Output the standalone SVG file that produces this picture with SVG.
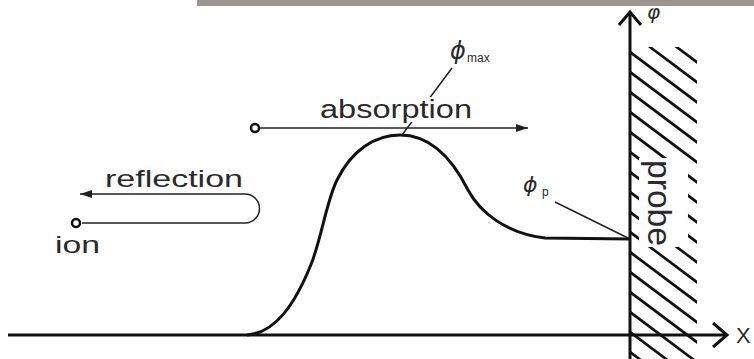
<svg xmlns="http://www.w3.org/2000/svg" width="754" height="359" viewBox="0 0 754 359">
  <style>
    .lbl { font-family: "Liberation Sans", Arial, sans-serif; fill: #2a2a2a; }
    .phi { font-family: "DejaVu Sans", "Liberation Sans", sans-serif; font-style: italic; fill: #2a2a2a; }
    .thin { stroke: #222; stroke-width: 1.5; fill: none; }
    .thick { stroke: #111; stroke-width: 3; fill: none; }
    .hatch { stroke: #111; stroke-width: 2.6; }
    .ring { fill: #fff; stroke: #111; stroke-width: 2.5; }
  </style>
  <defs>
    <marker id="tri" viewBox="0 0 12 8" refX="12" refY="4" markerWidth="12" markerHeight="8" markerUnits="userSpaceOnUse" orient="auto">
      <path d="M0,0 L12,4 L0,8 Z" fill="#222"/>
    </marker>
    <clipPath id="probeClip">
      <rect x="631" y="47" width="66" height="312"/>
    </clipPath>
  </defs>
  <rect width="754" height="359" fill="#fff"/>

  <g id="probe">
    <g clip-path="url(#probeClip)" class="hatch">
      <line x1="630" y1="12" x2="720" y2="79.5"/>
      <line x1="630" y1="32" x2="720" y2="99.5"/>
      <line x1="630" y1="52" x2="720" y2="119.5"/>
      <line x1="630" y1="72" x2="720" y2="139.5"/>
      <line x1="630" y1="92" x2="720" y2="159.5"/>
      <line x1="630" y1="112" x2="720" y2="179.5"/>
      <line x1="630" y1="132" x2="720" y2="199.5"/>
      <line x1="630" y1="152" x2="720" y2="219.5"/>
      <line x1="630" y1="172" x2="720" y2="239.5"/>
      <line x1="630" y1="192" x2="720" y2="259.5"/>
      <line x1="630" y1="212" x2="720" y2="279.5"/>
      <line x1="630" y1="232" x2="720" y2="299.5"/>
      <line x1="630" y1="252" x2="720" y2="319.5"/>
      <line x1="630" y1="272" x2="720" y2="339.5"/>
      <line x1="630" y1="292" x2="720" y2="359.5"/>
      <line x1="630" y1="312" x2="720" y2="379.5"/>
      <line x1="630" y1="332" x2="720" y2="399.5"/>
      <line x1="630" y1="352" x2="720" y2="419.5"/>
    </g>
    <rect x="639" y="158" width="49" height="89" fill="#fff"/>
    <text class="lbl" transform="translate(648,160) rotate(90)" font-size="34" textLength="86" lengthAdjust="spacingAndGlyphs">probe</text>
  </g>

  <g id="axes">
    <line class="thick" x1="8" y1="335" x2="726" y2="335"/>
    <polyline class="thick" points="713,323 727,335 713,347"/>
    <line class="thick" x1="630" y1="359" x2="630" y2="12"/>
    <polyline class="thick" points="619,25 630,12 641,25"/>
    <text class="lbl" x="736" y="343" font-size="22">X</text>
    <text class="phi" x="647" y="19" font-size="20">φ</text>
  </g>

  <g id="potential">
    <path class="thick" d="M 247 335 C 275 333, 295 305, 312 262 C 322 235, 327 200, 337 180 C 352 150, 375 135, 400 135 C 430 135, 452 158, 468 190 C 480 212, 505 233, 545 238 L 630 239"/>
  </g>

  <g id="connectors">
    <line class="thin" x1="452" y1="68" x2="402" y2="135"/>
    <line class="thin" x1="555" y1="202" x2="628" y2="238"/>
    <line class="thin" x1="259" y1="128" x2="528" y2="128" marker-end="url(#tri)"/>
    <path class="thin" d="M 82 223 L 245 223 A 14.5 14.5 0 0 0 245 194 L 80 194" marker-end="url(#tri)"/>
  </g>

  <g id="absorption">
    <rect x="318" y="97" width="157" height="25" fill="#fff"/>
    <text class="lbl" x="320" y="118" font-size="25" textLength="152" lengthAdjust="spacingAndGlyphs">absorption</text>
    <circle class="ring" cx="255" cy="128" r="4"/>
  </g>

  <g id="reflection">
    <text class="lbl" x="105" y="187" font-size="24" textLength="138" lengthAdjust="spacingAndGlyphs">reflection</text>
  </g>

  <g id="ion">
    <circle class="ring" cx="76" cy="223" r="4"/>
    <text class="lbl" x="55" y="253" font-size="24" textLength="45" lengthAdjust="spacingAndGlyphs">ion</text>
  </g>

  <g id="phi-max">
    <text class="phi" x="450" y="59" font-size="24">ϕ</text>
    <text class="lbl" x="467" y="62" font-size="12">max</text>
  </g>

  <g id="phi-p">
    <text class="phi" x="523" y="192" font-size="22">ϕ</text>
    <text class="lbl" x="542" y="196" font-size="12">p</text>
  </g>

  <rect id="top-bar" x="197" y="0" width="557" height="6" fill="#9a9692"/>
</svg>
